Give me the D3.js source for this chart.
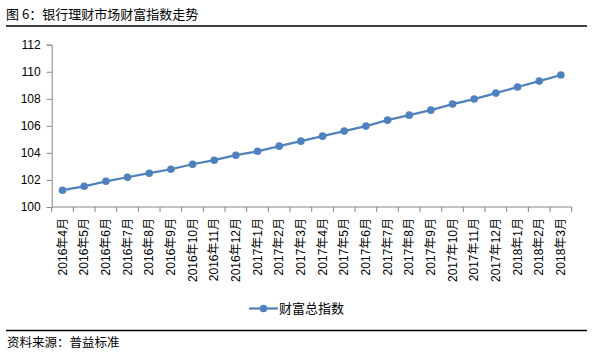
<!DOCTYPE html>
<html><head><meta charset="utf-8">
<script src="https://cdn.jsdelivr.net/npm/d3@7"></script>
<style>body{margin:0;background:#fff}svg{display:block}</style>
</head><body><svg id="c" width="595" height="356"></svg>
<script>
const categories = ["2016年4月","2016年5月","2016年6月","2016年7月","2016年8月","2016年9月","2016年10月","2016年11月","2016年12月","2017年1月","2017年2月","2017年3月","2017年4月","2017年5月","2017年6月","2017年7月","2017年8月","2017年9月","2017年10月","2017年11月","2017年12月","2018年1月","2018年2月","2018年3月"];
const wealthIndex = [101.24,101.53,101.90,102.20,102.50,102.79,103.16,103.46,103.83,104.12,104.50,104.87,105.24,105.61,105.98,106.42,106.79,107.16,107.61,107.98,108.42,108.87,109.31,109.76];
const yTicks = [100,102,104,106,108,110,112];
const seriesName = "财富总指数";
const title = "图 6：银行理财市场财富指数走势";
const source = "资料来源：普益标准";

const svg = d3.select("#c");
const font = "'Liberation Sans','Noto Sans CJK SC',sans-serif";
const cjk = "'Noto Sans CJK SC',sans-serif";
const blue = "#4F81BD", axisCol = "#868686";

svg.append("text").attr("x",6).attr("y",19).attr("font-family",cjk).attr("font-size",13).attr("fill","#000").text(title);
svg.append("line").attr("x1",6).attr("x2",587).attr("y1",26).attr("y2",26).attr("stroke","#000").attr("stroke-width",1.3);

const L = 51.7, R = 571.7, T = 44.7, B = 207;
const x = d3.scaleBand().domain(categories).range([L,R]);
const y = d3.scaleLinear().domain([100,112]).range([B,T]);

const yAxis = svg.append("g").attr("transform",`translate(${L},0)`)
  .call(d3.axisLeft(y).tickValues(yTicks).tickSize(5).tickPadding(6));
yAxis.selectAll("text").attr("font-family",font).attr("font-size",12).attr("fill","#000");
yAxis.select(".domain").attr("stroke",axisCol);
yAxis.selectAll(".tick line").attr("stroke",axisCol);

const xAxisG = svg.append("g").attr("transform",`translate(0,${B})`);
xAxisG.append("line").attr("x1",L).attr("x2",R).attr("stroke",axisCol);
xAxisG.selectAll("line.t").data(d3.range(categories.length+1)).join("line").attr("class","t")
  .attr("x1",i=>L+i*x.step()).attr("x2",i=>L+i*x.step()).attr("y1",0).attr("y2",5).attr("stroke",axisCol);
xAxisG.selectAll("text").data(categories).join("text")
  .attr("transform",d=>`translate(${x(d)+x.bandwidth()/2+4},11) rotate(-90)`)
  .attr("text-anchor","end").attr("font-family",font).attr("font-size",12).attr("fill","#000").text(d=>d);

const data = categories.map((c,i)=>({c,v:wealthIndex[i]}));
svg.append("path").datum(data).attr("fill","none").attr("stroke",blue).attr("stroke-width",2.25)
  .attr("d",d3.line().x(d=>x(d.c)+x.bandwidth()/2).y(d=>y(d.v)));
svg.selectAll("circle.p").data(data).join("circle").attr("class","p")
  .attr("cx",d=>x(d.c)+x.bandwidth()/2).attr("cy",d=>y(d.v)).attr("r",3.8).attr("fill",blue);

const lg = svg.append("g");
lg.append("line").attr("x1",249).attr("x2",278).attr("y1",308.5).attr("y2",308.5).attr("stroke",blue).attr("stroke-width",2.25);
lg.append("circle").attr("cx",263.5).attr("cy",308.5).attr("r",3.8).attr("fill",blue);
lg.append("text").attr("x",279).attr("y",313).attr("font-family",cjk).attr("font-size",13).attr("fill","#000").text(seriesName);

svg.append("line").attr("x1",6).attr("x2",587).attr("y1",330.5).attr("y2",330.5).attr("stroke","#000").attr("stroke-width",1.3);
svg.append("text").attr("x",7).attr("y",347).attr("font-family",cjk).attr("font-size",12.5).attr("fill","#000").text(source);
</script></body></html>
